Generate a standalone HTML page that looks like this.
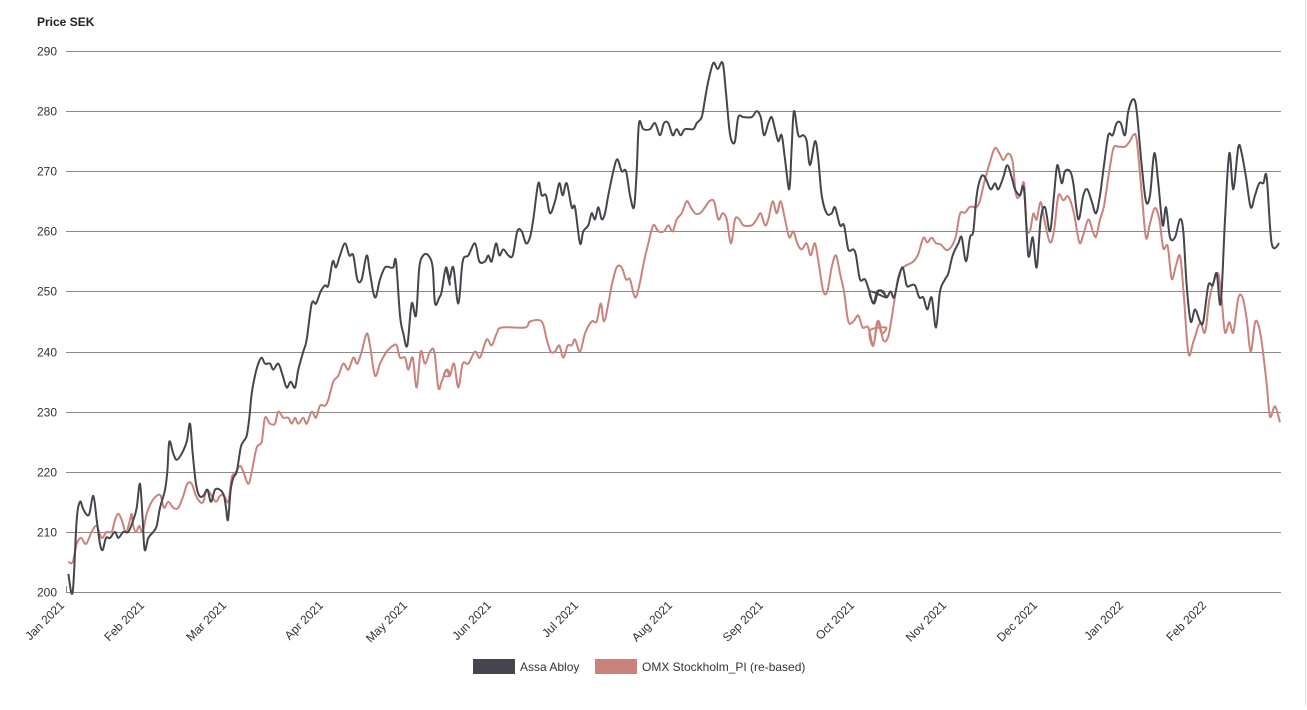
<!DOCTYPE html>
<html><head><meta charset="utf-8"><style>
body{margin:0;background:#fff;width:1307px;height:705px;overflow:hidden;font-family:"Liberation Sans",Arial,sans-serif}
</style></head><body>
<svg id="s" width="1307" height="705" xmlns="http://www.w3.org/2000/svg" font-family="Liberation Sans, Arial, sans-serif">
<rect width="1307" height="705" fill="#fff"/>
<line x1="1305.5" y1="0" x2="1305.5" y2="705" stroke="#ddd"/>
<text x="37" y="26" font-size="12" font-weight="bold" fill="#222">Price SEK</text>
<g id="grid"></g>
<g id="ylab" font-size="12" fill="#333" text-anchor="end"></g>
<g id="xlab" font-size="12" fill="#333" text-anchor="end"></g>
<path id="red" fill="none" stroke="#c9837c" stroke-width="2"/>
<path id="dark" fill="none" stroke="#45454d" stroke-width="2"/>
<rect x="473" y="659" width="42" height="15" fill="#45454d"/>
<text x="520" y="671" font-size="12" fill="#333">Assa Abloy</text>
<rect x="595" y="659" width="42" height="15" fill="#c9837c"/>
<text x="642" y="671" font-size="12" fill="#333">OMX Stockholm_PI (re-based)</text>
</svg>
<script>
var ns="http://www.w3.org/2000/svg";
function Y(v){return 51+(290-v)*541/90;}
function el(p,t,a,txt){var e=document.createElementNS(ns,t);for(var k in a)e.setAttribute(k,a[k]);if(txt)e.textContent=txt;document.getElementById(p).appendChild(e);}
for(var v=200;v<=290;v+=10){var y=Math.round(Y(v))+0.5;el("grid","line",{x1:66,x2:1281,y1:y,y2:y,stroke:"#8a8a8a","stroke-width":1});el("ylab","text",{x:57,y:y+4},String(v));}
el("grid","line",{x1:66.5,x2:66.5,y1:586,y2:593,stroke:"#8a8a8a"});
var m=[["Jan 2021",68],["Feb 2021",148],["Mar 2021",230],["Apr 2021",327],["May 2021",411],["Jun 2021",495],["Jul 2021",582],["Aug 2021",676],["Sep 2021",767],["Oct 2021",858],["Nov 2021",950],["Dec 2021",1041],["Jan 2022",1127],["Feb 2022",1210]];
m.forEach(function(a){el("xlab","text",{x:a[1]-3,y:606,transform:"rotate(-45 "+(a[1]-3)+" 606)"},a[0]);});
function conv(list,off,zy){return list.map(function(p){return [off+p[0]/3, zy?Y(290-(p[1]-30)/15.7):Y(p[1])];});}
var d1=[[205,203],[218,200],[230,212],[240,215],[248,214],[258,213],[268,213],[280,216],[290,212],[300,208],[308,207],[318,209],[330,209],[345,210],[355,209],[370,210],[385,210],[400,212],[410,214],[420,218],[428,212],[434,207],[445,209],[460,210],[470,211],[480,214],[495,217],[502,220],[508,225],[520,223],[530,222],[545,223],[560,225],[570,228],[578,223],[588,218],[598,216],[610,216],[622,217],[633,215],[645,217],[660,217],[672,216],[678,214],[684,212],[692,217],[700,219],[710,220],[722,224],[730,225],[740,226],[748,229],[755,233],[765,236],[775,238],[785,239],[795,238],[810,238],[820,237],[835,238],[848,236],[860,234],[872,235],[885,234],[895,237],[910,240],[920,242],[935,248],[948,248],[962,250],[975,251],[985,251],[998,255],[1008,254],[1020,256],[1035,258],[1048,256],[1060,256],[1072,252],[1085,252],[1100,256],[1110,253],[1125,249],[1140,252],[1155,254],[1170,254],[1180,254],[1188,255],[1200,246],[1210,243],[1222,241],[1235,248],[1248,246],[1258,254],[1270,256],[1285,256],[1298,254],[1305,248],[1318,249],[1325,250],[1338,254],[1350,251]];
var d2=[[18,254],[28,252],[40,254],[55,248],[68,255],[85,256],[105,258],[118,255],[135,255],[145,256],[155,255],[168,258],[178,256],[190,257],[205,256],[218,256],[232,260],[245,260],[258,258],[270,259],[280,262],[295,268],[305,266],[318,266],[330,263],[345,265],[358,268],[368,266],[380,268],[395,264],[405,264],[420,258],[430,260],[445,261],[455,263],[465,262],[475,264],[485,262],[495,263],[505,266],[520,270],[532,272],[545,270],[558,270],[570,266],[582,264],[590,270],[597,278],[610,277],[630,277],[645,278],[660,276],[672,278],[685,278],[698,276],[710,277],[722,276],[735,277],[760,277],[770,278],[785,279],[795,282],[805,285],[820,288],[833,287],[848,288],[858,283],[868,277],[875,275],[885,275],[895,279],[910,279],[935,279],[950,280],[962,279],[972,276],[985,278],[995,279],[1005,277],[1015,275],[1025,276],[1035,272],[1048,267],[1055,274],[1062,280],[1075,276],[1090,276],[1100,275],[1110,271],[1125,275],[1135,272],[1145,266],[1160,263],[1175,263],[1185,264],[1200,261],[1212,261],[1225,257],[1240,257],[1248,256],[1260,252],[1275,252],[1288,250],[1300,248],[1312,250],[1325,250],[1338,249]];
var d3=[[0,250],[12,248],[25,250],[40,250],[50,249],[62,250],[72,249],[85,252],[98,254],[110,251],[122,251],[135,251],[148,249],[160,249],[172,247],[185,249],[198,244],[210,250],[225,252],[235,253],[248,256],[265,258],[275,259],[288,255],[300,259],[310,260],[320,266],[333,269],[345,269],[362,267],[375,268],[385,267],[400,269],[412,271],[425,269],[435,267],[450,266],[462,267],[475,256],[488,259],[500,254],[512,262],[525,264],[540,260],[552,266],[562,271],[575,268],[585,270],[600,270],[610,268],[625,262],[640,266],[652,267],[665,265],[678,263],[690,266],[702,271],[715,276],[728,276],[740,278],[752,278],[765,276],[775,280],[790,282],[800,280],[815,271],[828,265],[840,266],[853,273],[865,268],[878,261],[888,264],[900,259],[915,259],[930,262],[940,260],[950,251],[962,245],[975,247],[990,245],[1000,245],[1015,251],[1028,251],[1040,253],[1052,248],[1065,262],[1078,273],[1090,267],[1105,274],[1115,273],[1128,269],[1142,264],[1155,266],[1168,268],[1180,268],[1190,269],[1205,258],[1228,258]];
var r1=[[205,205],[218,205],[230,208],[243,209],[258,208],[275,210],[290,211],[305,209],[320,210],[335,210],[345,212],[355,213],[365,212],[378,210],[390,212],[395,213],[400,211],[408,210],[418,211],[428,210],[440,213],[455,215],[470,216],[482,216],[492,214],[505,215],[520,214],[535,214],[550,216],[562,218],[575,218],[588,216],[600,215],[610,215],[620,217],[635,216],[648,215],[660,216],[672,216],[685,215],[695,219],[708,220],[720,221],[730,220],[745,218],[755,220],[770,224],[785,225],[795,229],[810,228],[825,228],[835,230],[850,229],[865,229],[875,228],[885,229],[895,228],[910,229],[920,228],[935,230],[948,229],[960,231],[975,231],[985,232],[1000,235],[1015,236],[1030,238],[1045,237],[1060,239],[1072,238],[1085,240],[1100,243],[1110,241],[1125,236],[1140,238],[1160,240],[1180,241],[1190,241],[1200,239],[1215,239],[1225,237],[1238,239],[1250,234],[1262,240],[1275,238],[1290,240],[1303,240],[1315,234],[1325,235],[1340,237],[1350,236]];
var r2=[[12,236],[20,237],[30,236],[42,238],[55,234],[68,238],[85,238],[105,240],[120,239],[140,242],[155,241],[170,243],[185,244],[255,244],[270,245],[305,245],[320,242],[332,240],[345,240],[358,241],[370,239],[383,241],[395,241],[405,242],[420,240],[435,243],[455,245],[470,245],[482,248],[492,245],[505,248],[515,251],[530,254],[545,254],[558,252],[570,252],[585,249],[598,251],[612,255],[625,258],[640,261],[655,260],[672,260],[685,261],[698,260],[710,262],[725,263],[740,265],[752,264],[765,263],[780,263],[795,264],[808,265],[822,265],[835,262],[848,263],[860,262],[873,258],[885,262],[898,262],[910,261],[935,261],[950,262],[962,263],[975,261],[985,262],[998,265],[1010,263],[1022,265],[1035,262],[1048,259],[1060,260],[1072,258],[1085,257],[1100,258],[1112,256],[1125,258],[1138,254],[1150,250],[1162,250],[1175,254],[1188,256],[1200,253],[1212,250],[1225,245],[1240,245],[1255,246],[1268,244],[1285,244],[1300,241],[1312,245],[1325,243],[1338,244]];
var r3=[[0,760],[10,800],[25,735],[40,785],[55,775],[70,700],[85,620],[100,595],[130,580],[145,560],[160,518],[172,530],[185,518],[198,532],[212,535],[230,550],[245,540],[258,512],[270,455],[285,452],[300,437],[320,437],[330,420],[345,365],[360,320],[375,283],[390,300],[400,315],[415,298],[428,320],[438,405],[450,408],[462,375],[470,490],[480,500],[490,455],[500,470],[512,425],[525,480],[540,530],[552,500],[565,408],[580,420],[595,410],[612,455],[628,530],[640,510],[655,470],[668,500],[678,515],[690,470],[702,435],[715,360],[730,285],[745,280],[765,280],[780,265],[790,250],[800,262],[815,400],[828,518],[840,480],[855,440],[868,470],[880,545],[893,540],[905,625],[918,590],[930,565],[940,650],[955,818],[970,790],[990,740],[1005,765],[1018,680],[1032,630],[1045,612],[1055,680],[1065,765],[1078,738],[1090,765],[1105,675],[1118,675],[1130,730],[1142,815],[1155,740],[1165,745],[1175,790],[1190,900],[1200,985],[1215,958],[1230,1000]];
function path(p){var d="M"+p[0][0].toFixed(1)+","+p[0][1].toFixed(1);for(var i=0;i<p.length-1;i++){var p0=p[i-1]||p[i],p1=p[i],p2=p[i+1],p3=p[i+2]||p2;var c1x=p1[0]+(p2[0]-p0[0])/6,c1y=p1[1]+(p2[1]-p0[1])/6,c2x=p2[0]-(p3[0]-p1[0])/6,c2y=p2[1]-(p3[1]-p1[1])/6;d+="C"+c1x.toFixed(1)+","+c1y.toFixed(1)+" "+c2x.toFixed(1)+","+c2y.toFixed(1)+" "+p2[0].toFixed(1)+","+p2[1].toFixed(1);}return d;}
var dark=conv(d1,0).concat(conv(d2,440)).concat(conv(d3,870));
var red=conv(r1,0).concat(conv(r2,440)).concat(conv(r3,870,true));
document.getElementById("dark").setAttribute("d",path(dark));
document.getElementById("red").setAttribute("d",path(red));
</script>
</body></html>
